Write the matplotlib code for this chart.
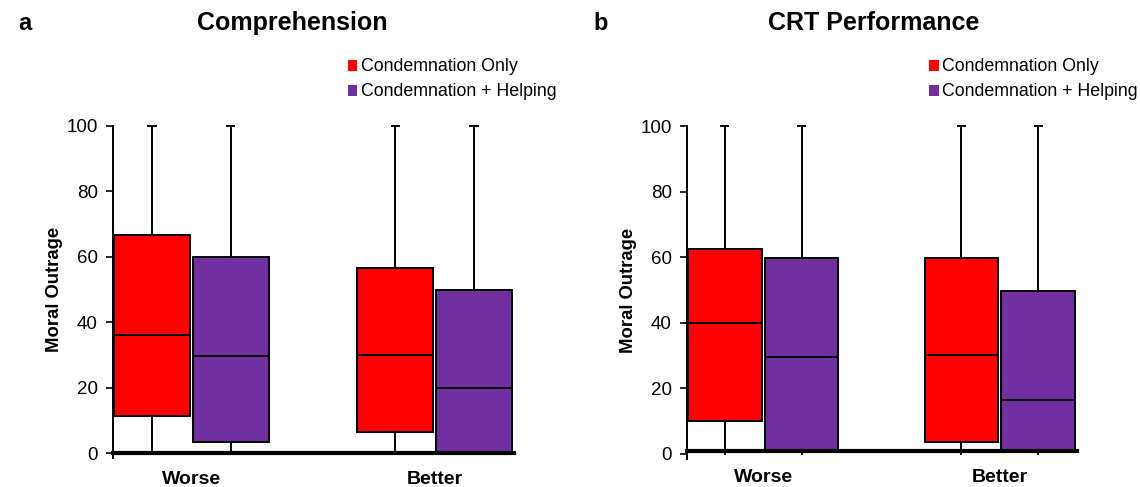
import matplotlib
matplotlib.use("Agg")
import matplotlib.pyplot as plt
from matplotlib.patches import Patch

plt.rcParams['font.family'] = ['Liberation Sans', 'DejaVu Sans']

categories = ["Worse", "Better"]
series = ["Condemnation Only", "Condemnation + Helping"]
colors = ["#FF0000", "#7030A0"]
yticks = [0, 20, 40, 60, 80, 100]

# panel a: Comprehension  (per category: [min, q1, median, q3, max])
comp_only = [[0, 11.3, 36.2, 66.6, 100], [0, 6.5, 29.9, 56.5, 100]]
comp_help = [[0, 3.5, 29.6, 60.0, 100], [0, 0, 19.8, 49.8, 100]]
# panel b: CRT Performance
crt_only = [[0, 10.2, 39.9, 62.5, 100], [0, 3.6, 30.3, 59.7, 100]]
crt_help = [[0, 1.0, 29.7, 59.9, 100], [0, 1.0, 16.6, 49.7, 100]]

panels = [
    ("a", "Comprehension", [comp_only, comp_help], [0.0991, 0.0698, 0.3518, 0.6715], 0.0,
     0.256, 0.016, 0.305, -0.125),
    ("b", "CRT Performance", [crt_only, crt_help], [0.6026, 0.0678, 0.3421, 0.6730], 0.8,
     0.766, 0.521, 0.815, -0.128),
]

fig = plt.figure(figsize=(11.4, 4.87), dpi=100)

offsets = [-0.162, 0.162]
width = 0.312

for letter, title, data, rect, base, tx, lx_letter, lx, ylx in panels:
    ax = fig.add_axes(rect)
    ax.spines['bottom'].set_position(('data', base))
    for si, sdata in enumerate(data):
        stats = []
        for vals in sdata:
            mn, q1, med, q3, mx = vals
            stats.append(dict(whislo=mn, q1=q1, med=med, q3=q3, whishi=mx, fliers=[]))
        pos = [i + offsets[si] for i in range(len(categories))]
        bp = ax.bxp(stats, positions=pos, widths=width, patch_artist=True,
                    showfliers=False, manage_ticks=False,
                    boxprops=dict(facecolor=colors[si], edgecolor="black", linewidth=1.4),
                    medianprops=dict(color="black", linewidth=1.4),
                    whiskerprops=dict(color="black", linewidth=1.4),
                    capprops=dict(color="black", linewidth=1.4),
                    capwidths=0.03)
        for k, c in enumerate(bp['caps']):
            c.set_clip_on(False)
            if k % 2 == 0:
                c.set_visible(False)
        for w in bp['whiskers']:
            w.set_clip_on(False)
    ax.set_xlim(-0.322, 1.326)
    ax.set_ylim(0, 100)
    ax.set_yticks(yticks)
    ax.set_yticklabels([str(t) for t in yticks], fontsize=13.5)
    ax.tick_params(axis='y', direction='out', length=5, width=1.2, pad=6)
    ax.set_xticks(range(len(categories)))
    ax.set_xticklabels(categories, fontsize=14, fontweight='bold')
    ax.tick_params(axis='x', length=0, pad=13)
    for s in ['top', 'right']:
        ax.spines[s].set_visible(False)
    ax.spines['left'].set_linewidth(1.4)
    ax.spines['left'].set_bounds(-1.5, 100)
    ax.spines['bottom'].set_linewidth(3)
    ax.spines['left'].set_zorder(3)
    ax.set_ylabel("Moral Outrage", fontsize=13.3, fontweight='bold')
    ax.yaxis.set_label_coords(ylx, 0.5)

    fig.text(tx, 0.952, title, fontsize=18, fontweight='bold', ha='center', va='center')
    fig.text(lx_letter, 0.952, letter, fontsize=17, fontweight='bold', ha='left', va='center')

    handles = [Patch(facecolor=colors[i], edgecolor='none', label=series[i]) for i in range(2)]
    fig.legend(handles=handles, loc='upper left', bbox_to_anchor=(lx, 0.88),
               frameon=False, fontsize=12.8, handlelength=0.55, handleheight=0.55,
               handletextpad=0.2, labelspacing=0.45, borderaxespad=0, borderpad=0)

fig.savefig("out.png", dpi=100)
